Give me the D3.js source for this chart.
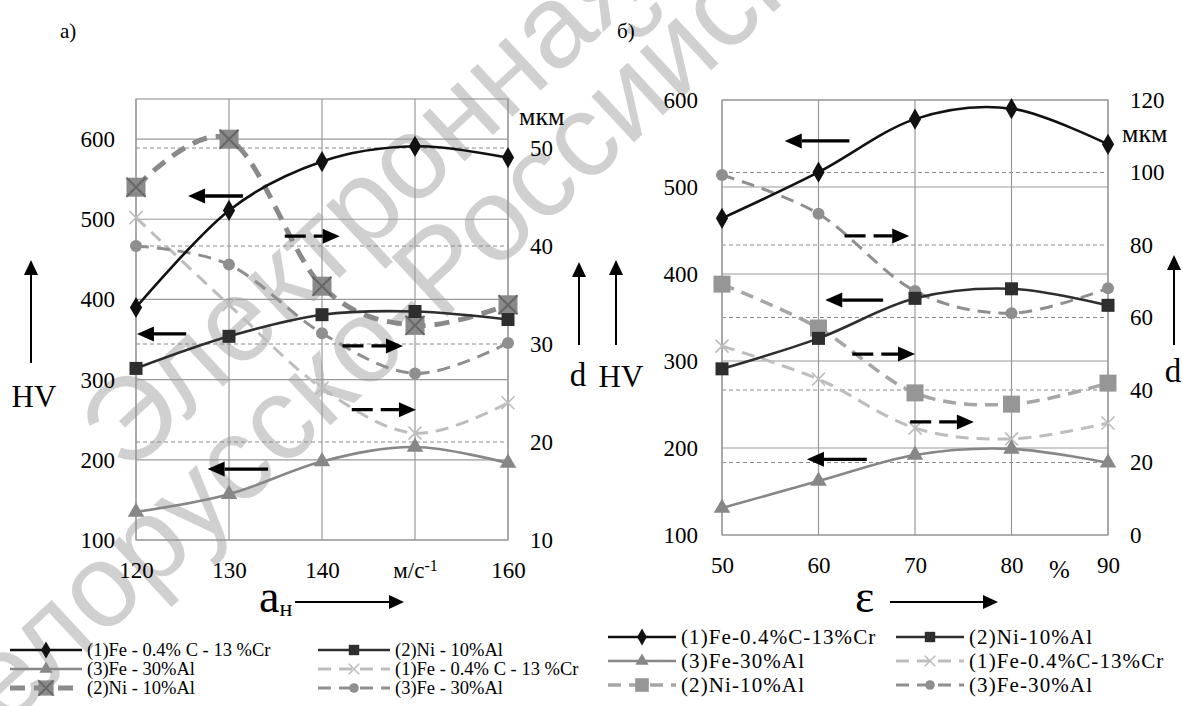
<!DOCTYPE html>
<html>
<head>
<meta charset="utf-8">
<script src="https://cdn.jsdelivr.net/npm/d3@7"></script>
<style>
  body { margin: 0; background: #fff; }
  svg { display: block; }
  svg text { font-family: "Liberation Serif", "DejaVu Serif", serif; }
  svg text.wm { font-family: "Liberation Sans", "DejaVu Sans", sans-serif; }
</style>
</head>
<body>
<svg width="1183" height="706"></svg>
<script>
// ---- data ----
const xA = [120, 130, 140, 150, 160];
const xLabelsA = ["120", "130", "140", "м/с", "160"];
const hvA1 = [390, 511, 572, 591, 577];   // (1)Fe-0.4%C-13%Cr, HV
const hvA2 = [314, 354, 381, 385, 375];   // (2)Ni-10%Al, HV
const hvA3 = [135, 157, 198, 216, 196];   // (3)Fe-30%Al, HV
const dA1 = [42.9, 34.0, 25.5, 20.9, 24.0];  // d, мкм
const dA2 = [46.0, 50.9, 35.9, 31.9, 34.0];
const dA3 = [40.0, 38.1, 31.1, 27.0, 30.1];
const hvTicksA = [100, 200, 300, 400, 500, 600];
const dTicksA = [10, 20, 30, 40, 50];

const xB = [50, 60, 70, 80, 90];
const xLabelsB = ["50", "60", "70", "80", "90"];
const hvB1 = [464, 517, 578, 590, 549];
const hvB2 = [291, 326, 372, 383, 364];
const hvB3 = [131, 162, 192, 199, 183];
const dB1 = [52.1, 43.0, 29.5, 26.5, 30.9];
const dB2 = [69.2, 57.1, 39.2, 36.1, 41.9];
const dB3 = [99.3, 88.6, 67.3, 61.2, 68.1];
const hvTicksB = [100, 200, 300, 400, 500, 600];
const dTicksB = [0, 20, 40, 60, 80, 100, 120];

const legendA = ["(1)Fe - 0.4% C - 13 %Cr", "(2)Ni - 10%Al", "(3)Fe - 30%Al"];
const legendB = ["(1)Fe-0.4%C-13%Cr", "(2)Ni-10%Al", "(3)Fe-30%Al"];

// annotation arrows in axis units: [tail x, tip x, level]
const leftArrowsA = [[131.5, 125.6, 529], [125.4, 120.1, 357], [134.2, 127.7, 188.5]];
const rightArrowsA = [[136.0, 141.9, 41.0], [142.2, 148.7, 29.8], [143.2, 150.1, 23.3]];
const leftArrowsB = [[63.2, 56.5, 553], [66.7, 60.7, 370], [65.0, 58.8, 187]];
const rightArrowsB = [[62.7, 69.4, 82.5], [63.5, 70.0, 49.9], [69.5, 76.1, 31.2]];

const svg = d3.select("svg");

// ---- watermark (sits under the chart) ----
const wm = svg.append("g").attr("fill", "#d0d0d0").attr("font-size", 118);
wm.append("text").attr("class", "wm").attr("transform", "translate(127,476) rotate(-43)").text("Электронная");
wm.append("text").attr("class", "wm").attr("transform", "translate(-52,782) rotate(-43)").text("Белорусско-Российского");

// ---- helpers ----
function hArrow(g, x1, x2, y, dashed) {
  const dir = Math.sign(x2 - x1), hl = 17, hw = 7.5;
  g.append("line")
    .attr("x1", x1).attr("x2", x2 - dir * hl).attr("y1", y).attr("y2", y)
    .attr("stroke", "#000").attr("stroke-width", 3.3)
    .attr("stroke-dasharray", dashed ? "21,8" : null);
  g.append("path")
    .attr("d", `M${x2},${y}L${x2 - dir * hl},${y - hw}L${x2 - dir * hl},${y + hw}Z`)
    .attr("fill", "#000");
}

function thinArrow(g, x1, y1, x2, y2) {
  const len = Math.hypot(x2 - x1, y2 - y1), ux = (x2 - x1) / len, uy = (y2 - y1) / len;
  const hl = 15, hw = 7;
  const bx = x2 - ux * hl, by = y2 - uy * hl;
  g.append("line").attr("x1", x1).attr("y1", y1).attr("x2", bx).attr("y2", by)
    .attr("stroke", "#000").attr("stroke-width", 2);
  g.append("path")
    .attr("d", `M${x2},${y2}L${bx - uy * hw},${by + ux * hw}L${bx + uy * hw},${by - ux * hw}Z`)
    .attr("fill", "#000");
}

function marker(g, type, cx, cy, color, size) {
  if (type === "diamond") {
    g.append("path").attr("transform", `translate(${cx},${cy})`)
      .attr("d", d3.symbol(d3.symbolDiamond, size * size * 0.9)()).attr("fill", color);
  } else if (type === "square") {
    g.append("rect").attr("x", cx - size / 2).attr("y", cy - size / 2)
      .attr("width", size).attr("height", size).attr("fill", color);
  } else if (type === "triangle") {
    g.append("path").attr("transform", `translate(${cx},${cy})`)
      .attr("d", d3.symbol(d3.symbolTriangle, size * size * 0.6)()).attr("fill", color);
  } else if (type === "circle") {
    g.append("circle").attr("cx", cx).attr("cy", cy).attr("r", size / 2).attr("fill", color);
  } else if (type === "x") {
    const s = size / 2;
    g.append("path").attr("d", `M${cx - s},${cy - s}L${cx + s},${cy + s}M${cx - s},${cy + s}L${cx + s},${cy - s}`)
      .attr("stroke", color).attr("stroke-width", 1.6).attr("fill", "none");
  } else if (type === "sqx") {
    g.append("rect").attr("x", cx - size / 2).attr("y", cy - size / 2)
      .attr("width", size).attr("height", size).attr("fill", color);
    const s = size / 2;
    g.append("path").attr("d", `M${cx - s},${cy - s}L${cx + s},${cy + s}M${cx - s},${cy + s}L${cx + s},${cy - s}`)
      .attr("stroke", "#666").attr("stroke-width", 2).attr("fill", "none");
  }
}

function drawPanel(p) {
  const x = d3.scaleLinear().domain(p.xDomain).range([p.left, p.right]);
  const yL = d3.scaleLinear().domain(p.hvDomain).range([p.bottom, p.top]);
  const yR = d3.scaleLinear().domain(p.dDomain).range([p.bottom, p.top]);
  const g = svg.append("g");

  // dashed grid on the d axis ticks
  g.selectAll(".dgrid").data(p.dTicks.filter(v => v > p.dDomain[0] && v < p.dDomain[1]))
    .join("line")
    .attr("x1", p.left).attr("x2", p.right)
    .attr("y1", d => yR(d)).attr("y2", d => yR(d))
    .attr("stroke", "#8a8a8a").attr("stroke-width", 1).attr("stroke-dasharray", "4,3");
  // solid grid on the HV ticks
  g.selectAll(".hgrid").data(p.hvTicks).join("line")
    .attr("x1", p.left).attr("x2", p.right)
    .attr("y1", d => yL(d)).attr("y2", d => yL(d))
    .attr("stroke", "#999").attr("stroke-width", 1.2);
  g.selectAll(".vgrid").data(p.xs).join("line")
    .attr("x1", d => x(d)).attr("x2", d => x(d))
    .attr("y1", p.top).attr("y2", p.bottom)
    .attr("stroke", "#999").attr("stroke-width", 1.2);
  g.append("rect").attr("x", p.left).attr("y", p.top)
    .attr("width", p.right - p.left).attr("height", p.bottom - p.top)
    .attr("fill", "none").attr("stroke", "#999").attr("stroke-width", 1.2);

  // axes
  const ax = (sel) => sel.attr("font-size", 23).call(s => s.select(".domain").remove());
  g.append("g").attr("transform", `translate(${p.left},0)`)
    .call(d3.axisLeft(yL).tickValues(p.hvTicks).tickSize(0).tickPadding(p.padL))
    .call(ax);
  g.append("g").attr("transform", `translate(${p.right},0)`)
    .call(d3.axisRight(yR).tickValues(p.dTicks).tickSize(0).tickPadding(22))
    .call(ax);
  const bx = g.append("g").attr("transform", `translate(0,${p.bottom})`)
    .call(d3.axisBottom(x).tickValues(p.xs).tickSize(0).tickPadding(p.padB)
      .tickFormat((d, i) => p.xLabels[i]))
    .call(ax);
  bx.selectAll("text").filter(function () { return this.textContent === "м/с"; })
    .append("tspan").attr("dy", "-0.45em").attr("font-size", 16).text("-1");
  g.selectAll("text").attr("fill", "#000");

  const line = (ys, sc) => d3.line()
    .x((d, i) => x(p.xs[i])).y(d => sc(d))
    .curve(d3.curveCardinal.tension(0))(ys);

  // series: dashed (d axis) first, then solid (HV)
  p.series.forEach(s => {
    const sc = s.axis === "L" ? yL : yR;
    g.append("path").attr("d", line(s.vals, sc))
      .attr("fill", "none").attr("stroke", s.stroke).attr("stroke-width", s.width)
      .attr("stroke-dasharray", s.dash);
    s.vals.forEach((v, i) => marker(g, s.marker, x(p.xs[i]), sc(v), s.mcolor, s.msize));
  });

  // annotation arrows
  p.leftArrows.forEach(a => hArrow(g, x(a[0]), x(a[1]), yL(a[2]), false));
  p.rightArrows.forEach(a => hArrow(g, x(a[0]), x(a[1]), yR(a[2]), true));

  // legend
  p.legend.forEach(it => {
    const lx = p.legX[it.col];
    const ly = p.legY[it.row];
    const s = p.series[it.series];
    g.append("line").attr("x1", lx).attr("x2", lx + p.legLen).attr("y1", ly).attr("y2", ly)
      .attr("stroke", s.stroke).attr("stroke-width", s.width).attr("stroke-dasharray", s.dash);
    marker(g, s.marker, lx + p.legLen / 2, ly, s.mcolor, s.msize * 0.8);
    g.append("text").attr("x", lx + p.legLen + 5).attr("y", ly + p.legFont * 0.33)
      .attr("font-size", p.legFont).attr("letter-spacing", p.legSpacing).text(it.text);
  });
}

const dashA2 = { stroke: "#8a8a8a", width: 5, dash: "15,9", marker: "sqx", mcolor: "#8a8a8a", msize: 19 };
const dashB2 = { stroke: "#a6a6a6", width: 3.5, dash: "13,8", marker: "square", mcolor: "#969696", msize: 17 };

function seriesFor(h1, h2, h3, d1, d2, d3, ni) {
  return [
    { axis: "R", vals: d1, stroke: "#bdbdbd", width: 3, dash: "13,8", marker: "x", mcolor: "#bdbdbd", msize: 13 },
    Object.assign({ axis: "R", vals: d2 }, ni),
    { axis: "R", vals: d3, stroke: "#8f8f8f", width: 3, dash: "13,8", marker: "circle", mcolor: "#8f8f8f", msize: 12 },
    { axis: "L", vals: h3, stroke: "#878787", width: 2.6, dash: null, marker: "triangle", mcolor: "#878787", msize: 14 },
    { axis: "L", vals: h2, stroke: "#2e2e2e", width: 2.6, dash: null, marker: "square", mcolor: "#2e2e2e", msize: 13 },
    { axis: "L", vals: h1, stroke: "#111", width: 2.6, dash: null, marker: "diamond", mcolor: "#111", msize: 12 }
  ];
}

function legendItems(names) {
  return [
    { row: 0, col: 0, series: 5, text: names[0] },
    { row: 0, col: 1, series: 4, text: names[1] },
    { row: 1, col: 0, series: 3, text: names[2] },
    { row: 1, col: 1, series: 0, text: names[0] },
    { row: 2, col: 0, series: 1, text: names[1] },
    { row: 2, col: 1, series: 2, text: names[2] }
  ];
}

drawPanel({
  xs: xA, xLabels: xLabelsA, xDomain: [120, 160], hvDomain: [100, 650], dDomain: [10, 55],
  hvTicks: hvTicksA, dTicks: dTicksA,
  left: 136, right: 508, top: 99, bottom: 540, padL: 21, padB: 22,
  series: seriesFor(hvA1, hvA2, hvA3, dA1, dA2, dA3, dashA2),
  leftArrows: leftArrowsA, rightArrows: rightArrowsA,
  legend: legendItems(legendA), legX: [10, 318], legY: [650, 669, 688], legLen: 72,
  legFont: 18.5, legSpacing: 0
});

drawPanel({
  xs: xB, xLabels: xLabelsB, xDomain: [50, 90], hvDomain: [100, 600], dDomain: [0, 120],
  hvTicks: hvTicksB, dTicks: dTicksB,
  left: 722, right: 1108, top: 100, bottom: 535, padL: 24, padB: 22,
  series: seriesFor(hvB1, hvB2, hvB3, dB1, dB2, dB3, dashB2),
  leftArrows: leftArrowsB, rightArrows: rightArrowsB,
  legend: legendItems(legendB), legX: [608, 896], legY: [637, 661, 685], legLen: 68,
  legFont: 21, legSpacing: 1.1
});

// ---- axis captions and side arrows ----
const cap = svg.append("g").attr("fill", "#000");
cap.append("text").attr("x", 60).attr("y", 38).attr("font-size", 21).text("а)");
cap.append("text").attr("x", 617).attr("y", 38).attr("font-size", 21).text("б)");

cap.append("text").attr("x", 34).attr("y", 407).attr("text-anchor", "middle").attr("font-size", 31).text("HV");
cap.append("text").attr("x", 578).attr("y", 386).attr("text-anchor", "middle").attr("font-size", 33).text("d");
cap.append("text").attr("x", 621).attr("y", 387).attr("text-anchor", "middle").attr("font-size", 31).text("HV");
cap.append("text").attr("x", 1173).attr("y", 382).attr("text-anchor", "middle").attr("font-size", 33).text("d");
cap.append("text").attr("x", 519).attr("y", 125).attr("font-size", 26).text("мкм");
cap.append("text").attr("x", 1122).attr("y", 142).attr("font-size", 26).text("мкм");
cap.append("text").attr("x", 1049).attr("y", 578).attr("font-size", 25).text("%");

const ta = cap.append("text").attr("x", 259).attr("y", 612).attr("font-size", 46).text("a");
ta.append("tspan").attr("font-size", 24).attr("dy", 4).text("н");
cap.append("text").attr("x", 855).attr("y", 612).attr("font-size", 46).text("ε");

thinArrow(cap, 31, 363, 31, 260);
thinArrow(cap, 579, 345, 579, 262);
thinArrow(cap, 616, 345, 616, 260);
thinArrow(cap, 1174, 345, 1174, 255);
thinArrow(cap, 295, 602, 404, 602);
thinArrow(cap, 890, 602, 998, 602);
</script>
</body>
</html>
